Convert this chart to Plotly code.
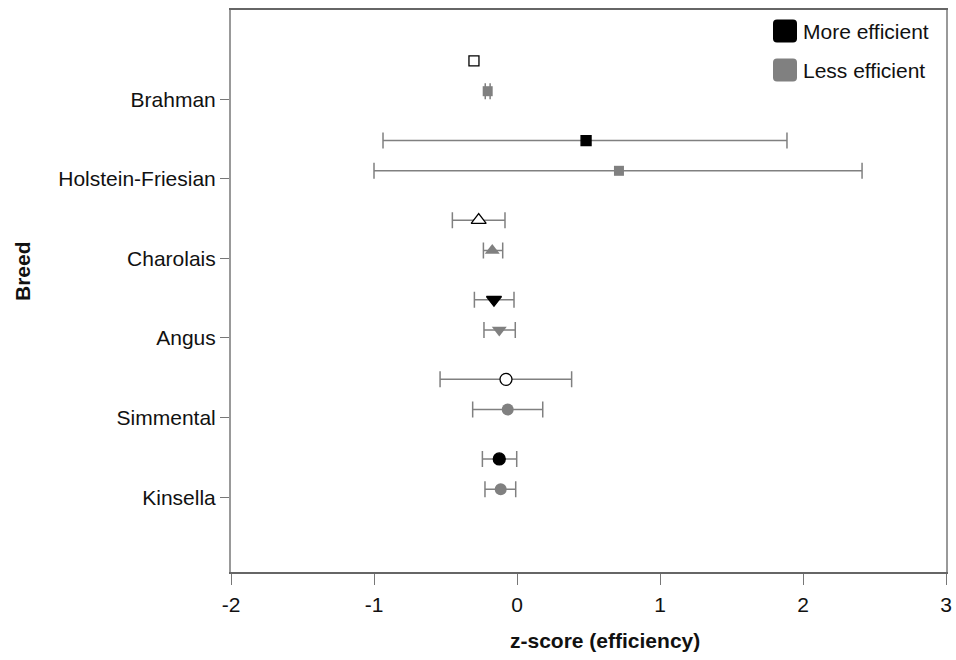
import plotly.graph_objects as go

# ---- data (bottom to top) ----
breeds = ["Kinsella", "Simmental", "Angus", "Charolais", "Holstein-Friesian", "Brahman"]

more_mean = [-0.124, -0.077, -0.161, -0.268, 0.483, -0.301]
more_lo = [-0.242, -0.538, -0.298, -0.452, -0.937, None]
more_hi = [-0.002, 0.382, -0.021, -0.084, 1.888, None]

less_mean = [-0.114, -0.065, -0.124, -0.173, 0.713, -0.205]
less_lo = [-0.224, -0.310, -0.231, -0.235, -1.000, -0.222]
less_hi = [-0.009, 0.180, -0.012, -0.100, 2.413, -0.188]

x_ticks = [-2, -1, 0, 1, 2, 3]
x_ticktext = ["-2", "-1", "0", "1", "2", "3"]
legend_labels = ["More efficient", "Less efficient"]

# ---- styles ----
BLACK = "#000000"
GRAY = "#808080"
FONT = "Liberation Sans, Arial, sans-serif"
FS = 21
symbols = ["circle", "circle", "triangle-down", "triangle-up", "square", "square"]
sizes = [12, 12, 13, 13, 10, 10]
more_fill = [BLACK, "white", BLACK, "white", BLACK, "white"]
MORE_OFF = 0.48
LESS_OFF = 0.10

pos = list(range(len(breeds)))

fig = go.Figure()


def add_series(mean, lo, hi, off, fill, line_w, line_col):
    for has_err in (True, False):
        idx = [i for i in pos if (lo[i] is not None) == has_err]
        if not idx:
            continue
        err = None
        if has_err:
            err = dict(type="data",
                       array=[hi[i] - mean[i] for i in idx],
                       arrayminus=[mean[i] - lo[i] for i in idx],
                       color=GRAY, thickness=1.5, width=8)
        fig.add_trace(go.Scatter(
            x=[mean[i] for i in idx], y=[pos[i] + off for i in idx], mode="markers",
            marker=dict(symbol=[symbols[i] for i in idx], size=[sizes[i] for i in idx],
                        color=[fill[i] for i in idx], opacity=1,
                        line=dict(width=line_w, color=line_col)),
            error_x=err if err else dict(visible=False),
            showlegend=False, hoverinfo="skip"))


add_series(less_mean, less_lo, less_hi, LESS_OFF, [GRAY] * len(breeds), 0, GRAY)
add_series(more_mean, more_lo, more_hi, MORE_OFF, more_fill, 1.3, BLACK)

# ---- manual legend ----
L, R, T, B = 231, 946, 10, 572
W, H = R - L, B - T


def px(x):
    return (x - L) / W


def py(y):
    return 1 - (y - T) / H


def rrect(x0, y0, x1, y1, r=4):
    return (f"M {px(x0 + r)} {py(y0)} L {px(x1 - r)} {py(y0)} Q {px(x1)} {py(y0)} {px(x1)} {py(y0 + r)} "
            f"L {px(x1)} {py(y1 - r)} Q {px(x1)} {py(y1)} {px(x1 - r)} {py(y1)} "
            f"L {px(x0 + r)} {py(y1)} Q {px(x0)} {py(y1)} {px(x0)} {py(y1 - r)} "
            f"L {px(x0)} {py(y0 + r)} Q {px(x0)} {py(y0)} {px(x0 + r)} {py(y0)} Z")


shapes = []
annotations = []
for i, (lab, col) in enumerate(zip(legend_labels, [BLACK, GRAY])):
    yc = 31 + i * 39
    shapes.append(dict(type="path", xref="paper", yref="paper",
                       path=rrect(773, yc - 11.5, 797, yc + 11.5),
                       fillcolor=col, line=dict(width=0)))
    annotations.append(dict(x=px(801), y=py(yc), xref="paper", yref="paper",
                            text=lab, showarrow=False, xanchor="left", yanchor="middle",
                            font=dict(family=FONT, size=FS, color="#111")))

annotations.append(dict(x=px(605), y=py(640), xref="paper", yref="paper",
                        text="<b>z-score (efficiency)</b>", showarrow=False,
                        xanchor="center", yanchor="middle",
                        font=dict(family=FONT, size=FS, color="#111")))
annotations.append(dict(x=px(22), y=py(271), xref="paper", yref="paper",
                        text="<b>Breed</b>", showarrow=False, textangle=-90,
                        xanchor="center", yanchor="middle",
                        font=dict(family=FONT, size=FS, color="#111")))

fig.update_layout(
    width=956, height=660,
    margin=dict(l=L, r=956 - R, t=T, b=660 - B, autoexpand=False),
    paper_bgcolor="white", plot_bgcolor="white",
    font=dict(family=FONT, size=FS, color="#111"),
    shapes=shapes, annotations=annotations,
    xaxis=dict(range=[-2, 3], tickvals=x_ticks, ticktext=x_ticktext, ticks="outside", ticklen=11,
               tickcolor="#777", tickwidth=1.2, showgrid=False, zeroline=False,
               showline=True, mirror=True, linecolor="#666", linewidth=1.5,
               automargin=False, ticklabelstandoff=2,
               tickfont=dict(family=FONT, size=FS, color="#111")),
    yaxis=dict(range=[-0.94, 6.12], tickvals=pos, ticktext=breeds, ticks="outside",
               ticklen=9, tickcolor="#777", tickwidth=1.2, showgrid=False, zeroline=False,
               showline=True, mirror=True, linecolor="#999", linewidth=2,
               ticklabelstandoff=0, automargin=False,
               tickfont=dict(family=FONT, size=FS, color="#111")),
)

fig.write_html("out.html")
